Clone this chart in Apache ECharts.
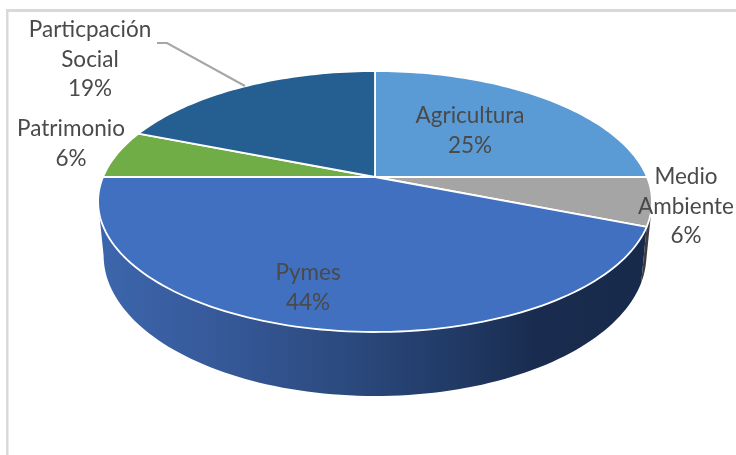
<!DOCTYPE html>
<html>
<head>
<meta charset="utf-8">
<style>html,body{margin:0;padding:0;background:#fff}#c{width:736px;height:455px}</style>
<script src="https://cdn.jsdelivr.net/npm/echarts@6/dist/echarts.min.js"></script>
</head>
<body>
<div id="c"></div>
<script>
const categories = ['Agricultura', 'Medio Ambiente', 'Pymes', 'Patrimonio', 'Particpación Social'];
const values = [25, 6, 44, 6, 19];
const colors = ['#5b9bd5', '#a5a5a5', '#4170c0', '#70ad47', '#255e91'];
const labelLines = [['Agricultura'], ['Medio', 'Ambiente'], ['Pymes'], ['Patrimonio'], ['Particpación', 'Social']];
const labelCentres = [[470, 116], [686, 177], [308, 273], [71, 129], [90, 30]];

const view = { cx: 375, cy: 177, a: 272, b: 125.9, k: 0.1877, depth: 52, shrink: 0.98 };
const lineGap = 29.3;

function project(deg, lower) {
  const t = deg * Math.PI / 180, u = Math.sin(t), v = -Math.cos(t), w = 1 - view.k * v;
  const s = lower ? view.shrink : 1;
  return [
    view.cx + s * view.a * u / w,
    view.cy + view.b * v / w + (lower ? view.depth / w : 0)
  ];
}
function arc(from, to, lower) {
  const n = Math.max(2, Math.ceil(Math.abs(to - from) / 1.5));
  const pts = [];
  for (let i = 0; i <= n; i++) pts.push(project(from + (to - from) * i / n, lower));
  return pts;
}
const total = values.reduce((a, b) => a + b, 0);
const spans = [];
values.reduce((acc, v) => { spans.push([acc / total * 360, (acc + v) / total * 360]); return acc + v; }, 0);

function sideItem(from, to, fill) {
  return {
    type: 'polygon',
    shape: { points: arc(from, to, false).concat(arc(to, from, true)) },
    style: { fill: fill, stroke: null }
  };
}
const chart = echarts.init(document.getElementById('c'), null, { renderer: 'canvas' });
const pymesSide = new echarts.graphic.LinearGradient(0, 0, 1, 0, [
  { offset: 0, color: '#3c66ac' },
  { offset: 0.2, color: '#375a9b' },
  { offset: 0.45, color: '#2b4a7e' },
  { offset: 0.65, color: '#213a66' },
  { offset: 0.8, color: '#192c4f' },
  { offset: 1, color: '#182a4b' }
]);
const dataIdx = values.map((v, i) => [i, v]);

chart.setOption({
  animation: false,
  backgroundColor: '#fff',
  graphic: [
    { type: 'rect', silent: true, z: 0, shape: { x: 6, y: 9, width: 730, height: 3 }, style: { fill: '#d9d9d9' } },
    { type: 'rect', silent: true, z: 0, shape: { x: 6, y: 9, width: 2.5, height: 446 }, style: { fill: '#d9d9d9' } }
  ],
  series: [
    {
      type: 'custom', coordinateSystem: 'none', silent: true, z: 2,
      data: dataIdx,
      renderItem(params, api) {
        const i = api.value(0);
        const [from, to] = spans[i];
        if (i === 1) return sideItem(Math.max(from, 104), to, '#3d3d3d');
        if (i === 2) return sideItem(from, 259, pymesSide);
        return null;
      }
    },
    {
      type: 'custom', coordinateSystem: 'none', silent: true, z: 3,
      data: dataIdx,
      renderItem(params, api) {
        const i = api.value(0);
        const [from, to] = spans[i];
        return {
          type: 'polygon',
          shape: { points: [[view.cx, view.cy]].concat(arc(from, to, false)) },
          style: { fill: colors[i], stroke: '#ffffff', lineWidth: 1.8, lineJoin: 'round' }
        };
      }
    },
    {
      type: 'custom', coordinateSystem: 'none', silent: true, z: 4,
      data: dataIdx,
      renderItem(params, api) {
        const i = api.value(0);
        const lines = labelLines[i].concat([api.value(1) + '%']);
        const [x, y] = labelCentres[i];
        const children = lines.map((s, j) => ({
          type: 'text',
          style: {
            x: x, y: y + j * lineGap, text: s, align: 'center', verticalAlign: 'middle',
            fontFamily: 'Lato, "Open Sans", sans-serif', fontSize: 22.5, fill: '#4a4a4a'
          }
        }));
        if (i === 4) {
          children.push({
            type: 'polyline',
            shape: { points: [[157, 43], [167, 43], [245, 86]] },
            style: { fill: null, stroke: '#a6a6a6', lineWidth: 2 }
          });
        }
        return { type: 'group', children };
      }
    }
  ]
});
</script>
</body>
</html>
